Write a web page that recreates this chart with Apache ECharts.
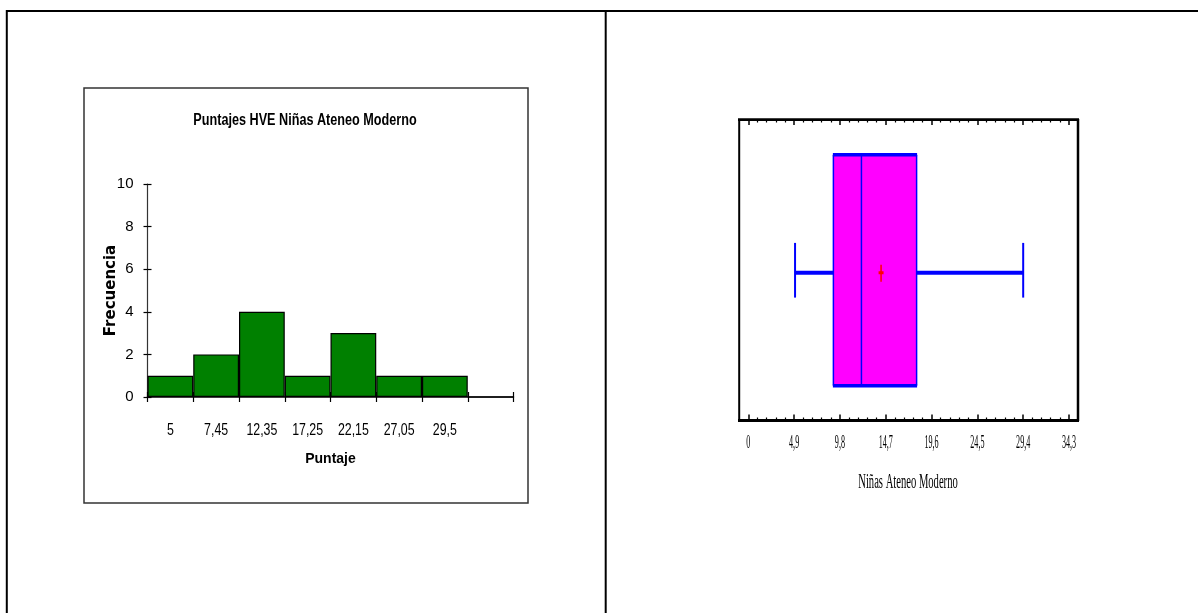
<!DOCTYPE html>
<html>
<head>
<meta charset="utf-8">
<script src="https://cdn.jsdelivr.net/npm/echarts@6/dist/echarts.min.js"></script>
<style>
html,body{margin:0;padding:0;background:#fff;}
#chart{width:1198px;height:613px;}
</style>
</head>
<body>
<div id="chart"></div>
<script>
// ---- Histogram data ----
const histTitle = 'Puntajes HVE Niñas Ateneo Moderno';
const histBins = ['5', '7,45', '12,35', '17,25', '22,15', '27,05', '29,5', ''];
const histCounts = [1, 2, 4, 1, 3, 1, 1, 0];
const histYTicks = [0, 2, 4, 6, 8, 10];

// ---- Box plot data ----
const boxName = 'Niñas Ateneo Moderno';
// [min, Q1, median, Q3, max, mean]
const boxStats = [5.0, 9.1, 12.1, 18.0, 29.4, 14.2];
const boxTickValues = [0, 4.9, 9.8, 14.7, 19.6, 24.5, 29.4, 34.3];
const boxTickLabels = ['0', '4,9', '9,8', '14,7', '19,6', '24,5', '29,4', '34,3'];

const SANS = '"Liberation Sans", Arial, sans-serif';
const SERIF = '"Liberation Serif", "DejaVu Serif", serif';

const chart = echarts.init(document.getElementById('chart'), null, {renderer: 'canvas'});

function renderBox(params, api) {
  const x = i => api.coord([api.value(i), 0.5])[0];
  const y = v => api.coord([0, v])[1];
  const xMin = x(0), xQ1 = x(1), xMed = x(2), xQ3 = x(3), xMax = x(4), xMean = x(5);
  const yT = y(0.884), yB = y(0.116), yC = y(0.5);
  const cT = y(0.591), cB = y(0.409);
  const yW = yC + 2.5;
  const blue = '#0000FF';
  const ln = (x1, y1, x2, y2, w, c) => ({type: 'line', shape: {x1, y1, x2, y2}, style: {stroke: c || blue, lineWidth: w}});
  return {
    type: 'group',
    children: [
      {type: 'rect', shape: {x: xQ1, y: yT, width: xQ3 - xQ1, height: yB - yT}, style: {fill: '#FF00FF'}},
      ln(xQ1, yT, xQ1, yB, 1.5),
      ln(xQ3, yT, xQ3, yB, 1.5),
      ln(xMed, yT, xMed, yB, 1.5),
      ln(xQ1 - 0.5, yT, xQ3 + 0.5, yT, 3.5),
      ln(xQ1 - 0.5, yB, xQ3 + 0.5, yB, 3.5),
      ln(xMin, yW, xQ1, yW, 4),
      ln(xQ3, yW, xMax, yW, 4),
      ln(xMin, cT, xMin, cB, 2),
      ln(xMax, cT, xMax, cB, 2),
      ln(xMean, yW - 8, xMean, yW + 9, 1.5, '#FF0000'),
      ln(xMean - 2.5, yW, xMean + 2.5, yW, 3, '#FF0000')
    ]
  };
}

function renderBoxTickLabel(params, api) {
  const p = api.coord([api.value(0), 0]);
  return {
    type: 'text',
    x: p[0],
    y: p[1] + 23,
    scaleX: 0.45,
    style: {
      text: boxTickLabels[params.dataIndex],
      font: '18px ' + SERIF,
      fill: '#000',
      align: 'center',
      verticalAlign: 'middle'
    }
  };
}

function renderHistLabel(params, api) {
  const p = api.coord([api.value(0), 0]);
  return {
    type: 'text',
    x: p[0],
    y: p[1] + 33,
    scaleX: 0.75,
    style: {
      text: histBins[params.dataIndex],
      font: '16.5px ' + SANS,
      fill: '#000',
      align: 'center',
      verticalAlign: 'middle'
    }
  };
}

const option = {
  animation: false,
  backgroundColor: '#fff',
  grid: [
    {left: 147.5, top: 184, width: 366, height: 213},
    {left: 748.3, top: 120, width: 320.7, height: 300.5}
  ],
  xAxis: [
    {
      gridIndex: 0, type: 'category', data: histBins, position: 'bottom',
      axisLine: {show: true, lineStyle: {color: '#000', width: 1.5}},
      axisTick: {show: true, alignWithLabel: false, length: 5, lineStyle: {color: '#000', width: 1.2}},
      axisLabel: {show: false},
      splitLine: {show: false},
      name: 'Puntaje', nameLocation: 'middle', nameGap: 55, nameMoveOverlap: false,
      nameTextStyle: {fontFamily: SANS, fontWeight: 'bold', fontSize: 14, color: '#000'}
    },
    {
      gridIndex: 0, type: 'category', data: histBins, position: 'bottom',
      axisLine: {show: false},
      axisTick: {show: true, inside: true, alignWithLabel: false, length: 5, lineStyle: {color: '#000', width: 1.2}},
      axisLabel: {show: false}, splitLine: {show: false}
    },
    {
      gridIndex: 1, type: 'value', min: 0, max: 34.3, interval: 4.9, position: 'bottom',
      axisLine: {show: false},
      axisTick: {show: true, inside: true, length: 6, lineStyle: {color: '#000', width: 1.5}},
      minorTick: {show: true, splitNumber: 5, length: 3, lineStyle: {color: '#000', width: 1.2}},
      axisLabel: {show: false}, splitLine: {show: false}, minorSplitLine: {show: false}
    },
    {
      gridIndex: 1, type: 'value', min: 0, max: 34.3, interval: 4.9, position: 'top',
      axisLine: {show: false},
      axisTick: {show: true, inside: true, length: 5, lineStyle: {color: '#000', width: 1.5}},
      minorTick: {show: true, splitNumber: 5, length: 2.5, lineStyle: {color: '#000', width: 1.2}},
      axisLabel: {show: false}, splitLine: {show: false}, minorSplitLine: {show: false}
    }
  ],
  yAxis: [
    {
      gridIndex: 0, type: 'value', position: 'left',
      min: histYTicks[0], max: histYTicks[histYTicks.length - 1], interval: 2,
      axisLine: {show: true, lineStyle: {color: '#333', width: 1.2}},
      axisTick: {show: true, length: 4, lineStyle: {color: '#000', width: 1.2}},
      axisLabel: {margin: 14, fontFamily: SANS, fontSize: 15, color: '#000'},
      splitLine: {show: false},
      name: 'Frecuencia', nameLocation: 'middle', nameGap: 29, nameMoveOverlap: false,
      nameTextStyle: {fontFamily: '"DejaVu Sans", Verdana, sans-serif', fontWeight: 'bold', fontSize: 15, color: '#000'}
    },
    {
      gridIndex: 0, type: 'value', position: 'left', min: 0, max: 10, interval: 2,
      axisLine: {show: false},
      axisTick: {show: true, inside: true, length: 4, lineStyle: {color: '#000', width: 1.2}},
      axisLabel: {show: false}, splitLine: {show: false}
    },
    {
      gridIndex: 1, type: 'value', min: 0, max: 1, show: false
    }
  ],
  series: [
    {
      type: 'bar', xAxisIndex: 0, yAxisIndex: 0, data: histCounts,
      barCategoryGap: 0, barGap: 0,
      itemStyle: {color: '#008000', borderColor: '#000', borderWidth: 1.2},
      silent: true
    },
    {
      type: 'custom', xAxisIndex: 0, yAxisIndex: 0,
      data: histBins.map((b, i) => [i]),
      encode: {x: 0},
      renderItem: renderHistLabel,
      clip: false, silent: true
    },
    {
      type: 'custom', xAxisIndex: 2, yAxisIndex: 2,
      data: [boxStats],
      encode: {x: [0, 1, 2, 3, 4, 5]},
      renderItem: renderBox,
      clip: false, silent: true
    },
    {
      type: 'custom', xAxisIndex: 2, yAxisIndex: 2,
      data: boxTickValues.map(v => [v]),
      encode: {x: 0},
      renderItem: renderBoxTickLabel,
      clip: false, silent: true
    }
  ],
  graphic: [
    // page table lines
    {type: 'line', shape: {x1: 6, y1: 11, x2: 1198, y2: 11}, style: {stroke: '#000', lineWidth: 2}},
    {type: 'line', shape: {x1: 6.8, y1: 10, x2: 6.8, y2: 613}, style: {stroke: '#000', lineWidth: 2}},
    {type: 'line', shape: {x1: 605.7, y1: 10, x2: 605.7, y2: 613}, style: {stroke: '#000', lineWidth: 2}},
    // histogram chart frame
    {type: 'rect', shape: {x: 84, y: 88, width: 444, height: 415}, style: {fill: 'none', stroke: '#333', lineWidth: 1.5}, z: -1},
    // histogram title
    {type: 'text', x: 305, y: 121, scaleX: 0.79,
     style: {text: histTitle, font: 'bold 16px ' + SANS, fill: '#000', align: 'center', verticalAlign: 'middle'}},
    // box plot frame
    {type: 'line', shape: {x1: 738, y1: 119.7, x2: 1079, y2: 119.7}, style: {stroke: '#000', lineWidth: 2.7}},
    {type: 'line', shape: {x1: 738, y1: 420.5, x2: 1079, y2: 420.5}, style: {stroke: '#000', lineWidth: 3}},
    {type: 'line', shape: {x1: 739.2, y1: 119, x2: 739.2, y2: 421}, style: {stroke: '#000', lineWidth: 2}},
    {type: 'line', shape: {x1: 1078, y1: 119, x2: 1078, y2: 421}, style: {stroke: '#000', lineWidth: 2.5}},
    // box plot axis title
    {type: 'text', x: 908, y: 483, scaleX: 0.53,
     style: {text: boxName, font: '20px ' + SERIF, fill: '#000', align: 'center', verticalAlign: 'middle'}}
  ]
};

chart.setOption(option);
</script>
</body>
</html>
